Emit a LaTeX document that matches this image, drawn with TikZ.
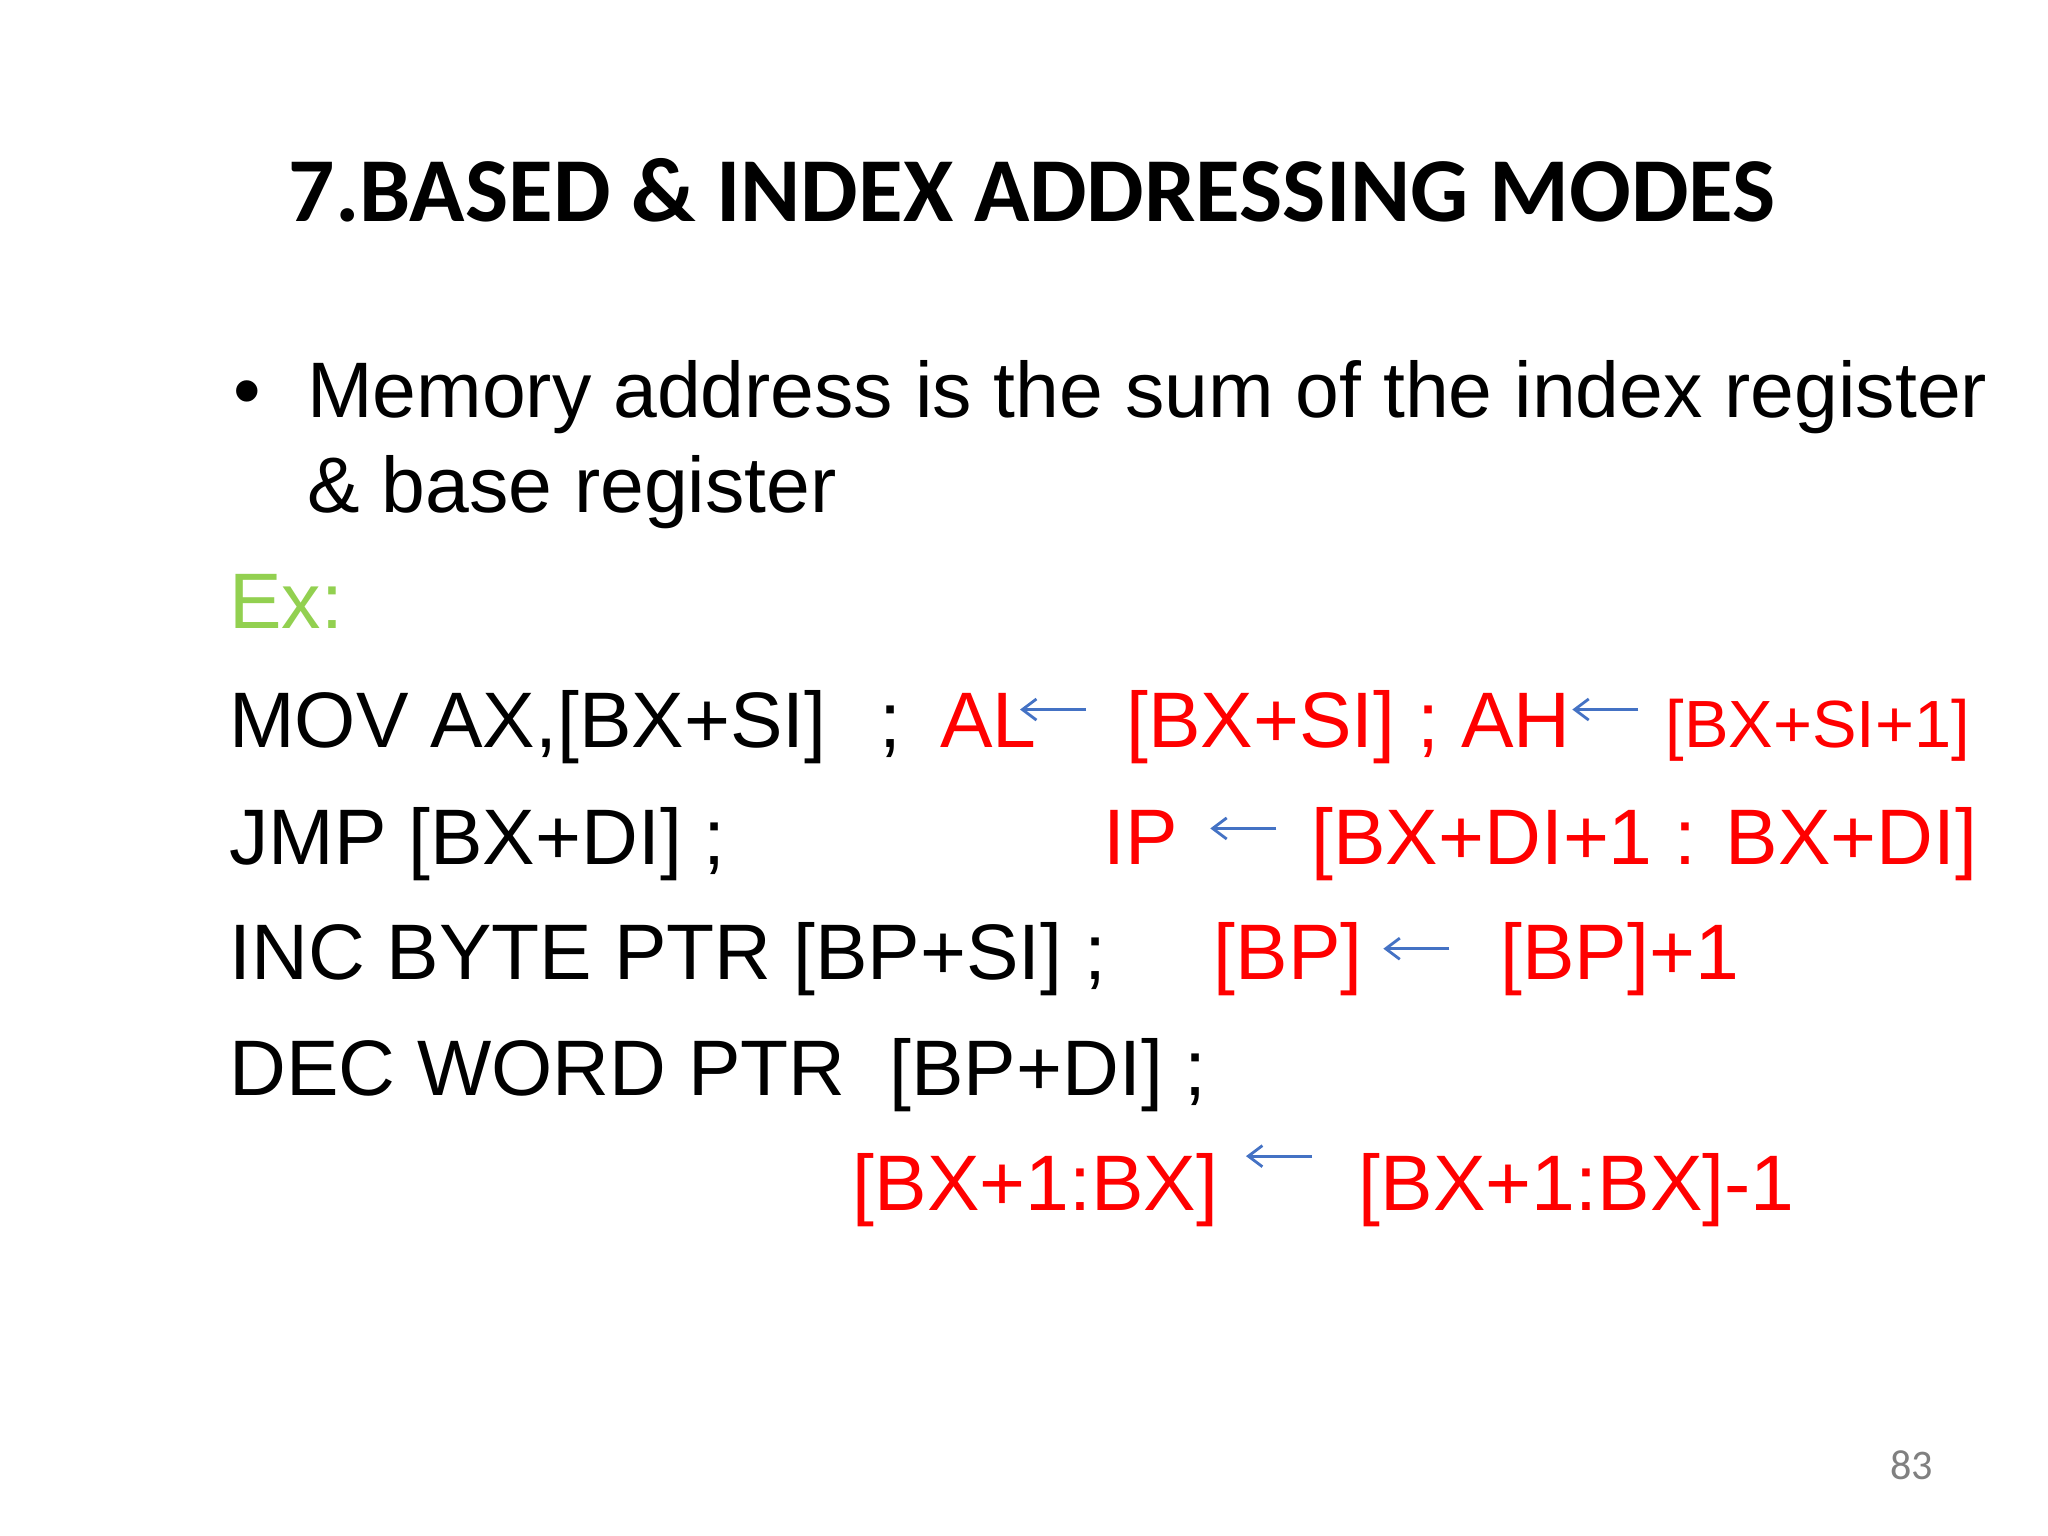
\documentclass[tikz,border=0pt]{standalone}
\usepackage{fontspec}
\setmainfont{Liberation Sans}
\newfontfamily\titlefont{Carlito}
\usetikzlibrary{arrows.meta}
\definecolor{exgreen}{RGB}{146,208,80}
\definecolor{arrowblue}{RGB}{68,114,196}
\tikzset{
  txt/.style={anchor=base west, inner sep=0pt, font=\fontsize{22.4}{27}\selectfont},
  redtxt/.style={txt, text=red},
  asgn/.style={draw=arrowblue, line width=0.8pt, -{Straight Barb[length=4pt,width=6pt]}}
}
\begin{document}
\begin{tikzpicture}[x=0.013213cm, y=-0.013213cm]
  \useasboundingbox (0,0) rectangle (1550,1162.5);
  \node[anchor=base west, inner sep=0pt, font=\titlefont\bfseries\fontsize{26}{30}\selectfont] (title) at (218,168) {7.BASED \& INDEX ADDRESSING MODES};

  \node[txt] (dot) at (176,316) {\textbullet};
  \node[txt] (line1) at (232,316) {Memory address is the sum of the index register};
  \node[txt] (line2) at (232,388) {\& base register};
  \node[txt, text=exgreen] (ex) at (173,476) {Ex:};

  \node[txt] (mov) at (173,566) {MOV AX,[BX+SI]};
  \node[txt] (movsc) at (665,566) {;};
  \node[redtxt] (al) at (711,566) {AL};
  \node[redtxt] (bxsi) at (852,566) {[BX+SI] ; AH};
  \node[redtxt, font=\fontsize{19}{23}\selectfont] (bxsi1) at (1260,566) {[BX+SI+1]};

  \node[txt] (jmp) at (173,654) {JMP [BX+DI] ;};
  \node[redtxt] (ip) at (835,654) {IP};
  \node[redtxt] (bxdi) at (992,654) {[BX+DI+1 : BX+DI]};

  \node[txt] (inc) at (173,741) {INC BYTE PTR [BP+SI] ;};
  \node[redtxt] (bp) at (918,741) {[BP]};
  \node[redtxt] (bp1) at (1135,741) {[BP]+1};

  \node[txt] (dec) at (173,829) {DEC WORD PTR\ \ [BP+DI] ;};
  \node[redtxt] (bx) at (645,916) {[BX+1:BX]};
  \node[redtxt] (bx1) at (1028,916) {[BX+1:BX]-1};

  \node[anchor=base west, inner sep=0pt, text=gray, font=\titlefont\fontsize{12}{14}\selectfont] (page) at (1430,1120) {83};

  % assignment arrows
  \coordinate (a1s) at (822,537); \coordinate (a1e) at (772,537);
  \coordinate (a2s) at (1240,537); \coordinate (a2e) at (1190,537);
  \coordinate (a3s) at (966,627); \coordinate (a3e) at (916,627);
  \coordinate (a4s) at (1097,718); \coordinate (a4e) at (1047,718);
  \coordinate (a5s) at (993,875); \coordinate (a5e) at (943,875);
  \foreach \i in {1,...,5}
    \draw[asgn] (a\i s) -- (a\i e);
\end{tikzpicture}
\end{document}
